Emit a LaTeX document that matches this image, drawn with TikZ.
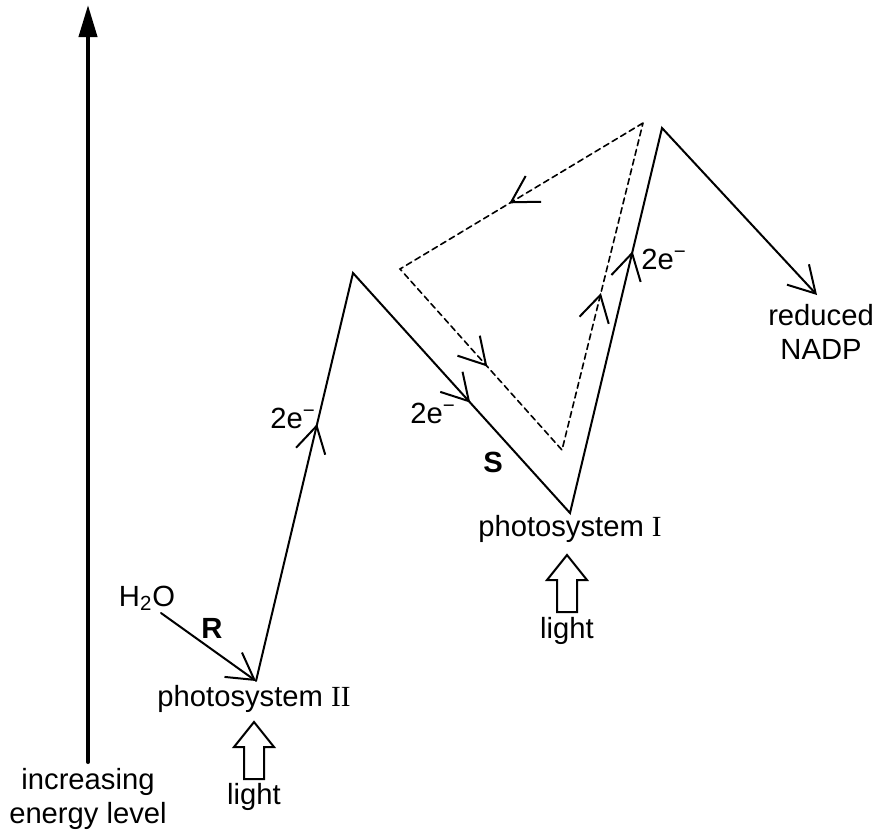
\documentclass[tikz,border=0pt]{standalone}
\usepackage{fontspec}
\setmainfont{Liberation Sans}
\newfontfamily\romfont{Liberation Serif}
\usetikzlibrary{arrows.meta,decorations.markings}
\tikzset{
  flow/.style={line width=1pt, line join=miter},
  cyclic/.style={line width=0.8pt, dash pattern=on 3pt off 2pt, line join=miter},
  barb/.style={-{Straight Barb[length=13pt,width=15pt]}},
  midarrow/.style={postaction={decorate},
    decoration={markings, mark=at position #1 with {\arrow[line width=1pt]{Straight Barb[length=13pt,width=15pt]}}}},
  lightarrow/.style={line width=1pt, line join=miter},
  lbl/.style={inner sep=1pt, font=\fontsize{14.6}{17}\selectfont, align=center},
}
\begin{document}
\begin{tikzpicture}[x=0.5pt, y=-0.5pt, line cap=round]
\useasboundingbox (0,0) rectangle (877,837);
\path (88,762) coordinate (ebot)
  (88,5) coordinate (etop)
  (161,613) coordinate (r0)
  (256,681) coordinate (ps2)
  (353,273) coordinate (peak1)
  (570,513) coordinate (ps1)
  (662,128) coordinate (peak2)
  (817,295) coordinate (nadp)
  (643,123) coordinate (dtop)
  (400,269) coordinate (dleft)
  (562,450) coordinate (dbot)
  (254,722) coordinate (lightA)
  (567,555) coordinate (lightB);
% energy axis
\draw[line width=2pt, -{Triangle[length=16pt,width=9pt]}] (ebot) -- (etop);
\node[lbl] (energy) at (88,799) {increasing\\energy level};
% labels
\node[lbl] (h2o) at (147,598) {H\textsubscript{2}O};
\node[lbl, font=\fontsize{14.6}{17}\selectfont\bfseries] (rlbl) at (212,628) {R};
\node[lbl] (ps2lbl) at (254,699) {photosystem {\romfont II}};
\node[lbl] (light2) at (254,797) {light};
\node[lbl] (ps1lbl) at (570,529) {photosystem {\romfont I}};
\node[lbl] (light1) at (567,631) {light};
\node[lbl, font=\fontsize{14.6}{17}\selectfont\bfseries] (slbl) at (493,462) {S};
\node[lbl] (e1) at (293,418) {2e\textsuperscript{−}};
\node[lbl] (e2) at (433,413) {2e\textsuperscript{−}};
\node[lbl] (e3) at (664,259) {2e\textsuperscript{−}};
\node[lbl] (nadplbl) at (821,332) {reduced\\NADP};
% electron flow
\draw[flow, barb] (r0) -- (ps2);
\draw[flow, barb] (ps2) -- (peak1) -- (ps1) -- (peak2) -- (nadp);
\path[midarrow=0.63] (ps2) -- (peak1);
\path[midarrow=0.54] (peak1) -- (ps1);
\path[midarrow=0.68] (ps1) -- (peak2);
% cyclic flow
\draw[cyclic] (dtop) -- (dleft) -- (dbot) -- cycle;
\path[midarrow=0.55] (dtop) -- (dleft);
\path[midarrow=0.54] (dleft) -- (dbot);
\path[midarrow=0.48] (dbot) -- (dtop);
% light
\draw[lightarrow] (lightA) -- ++(20,25) -- ++(-10,0) -- ++(0,32) -- ++(-20,0) -- ++(0,-32) -- ++(-10,0) -- cycle;
\draw[lightarrow] (lightB) -- ++(20,25) -- ++(-10,0) -- ++(0,32) -- ++(-20,0) -- ++(0,-32) -- ++(-10,0) -- cycle;
\end{tikzpicture}
\end{document}
